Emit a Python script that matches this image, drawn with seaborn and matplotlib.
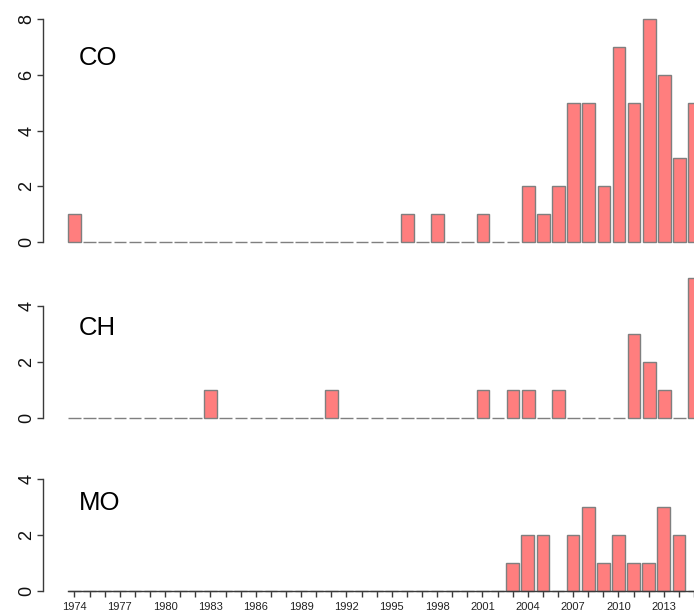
import numpy as np
import pandas as pd
import matplotlib
matplotlib.use("Agg")
import matplotlib.pyplot as plt
import seaborn as sns

years = list(range(1974, 2016))
co = [1, 0, 0, 0, 0, 0, 0, 0, 0, 0, 0, 0, 0, 0, 0, 0, 0, 0, 0, 0, 0, 0,
      1, 0, 1, 0, 0, 1, 0, 0, 2, 1, 2, 5, 5, 2, 7, 5, 8, 6, 3, 5]
ch = [0, 0, 0, 0, 0, 0, 0, 0, 0, 1, 0, 0, 0, 0, 0, 0, 0, 1, 0, 0, 0, 0,
      0, 0, 0, 0, 0, 1, 0, 1, 1, 0, 1, 0, 0, 0, 0, 3, 2, 1, 0, 5]
mo = [0, 0, 0, 0, 0, 0, 0, 0, 0, 0, 0, 0, 0, 0, 0, 0, 0, 0, 0, 0, 0, 0,
      0, 0, 0, 0, 0, 0, 0, 1, 2, 2, 0, 2, 3, 1, 2, 1, 1, 3, 2, 0]
panel_names = ["CO", "CH", "MO"]
panel_values = [co, ch, mo]
panel_ymax = [8, 4, 4]
label_years = list(range(1974, 2014, 3))

sns.set_style("white")
plt.rcParams["font.family"] = ["Liberation Sans", "DejaVu Sans"]

W, H = 694, 612
fig = plt.figure(figsize=(W / 100, H / 100), dpi=100)

fill = "#FF7E7E"
edge = "#7F7F7F"
axis_col = "#3a3a3a"

# pixel layout: (y of value 0, px per unit)
zero_px = [242.0, 417.7, 590.7]
unit_px = [27.84, 28.0, 27.9]
ylims = [(-0.3, 8.4), (-0.3, 5.2), (-0.3, 4.4)]
label_base = [65.0, 335.0, 510.0]

spacing = 15.125
x1974 = 74.5
left_px = 42.7
xl = 1974 - (x1974 - left_px) / spacing
xr = 1974 + (W - x1974) / spacing

for i, (name, vals) in enumerate(zip(panel_names, panel_values)):
    y0, y1 = ylims[i]
    bottom_px = zero_px[i] - y0 * unit_px[i]
    top_px = zero_px[i] - y1 * unit_px[i]
    ax = fig.add_axes([left_px / W, 1 - bottom_px / H,
                       (W - left_px) / W, (bottom_px - top_px) / H])
    df = pd.DataFrame({"year": years, "n": vals})
    sns.barplot(data=df, x="year", y="n", native_scale=True, width=0.84,
                color=fill, saturation=1, edgecolor=edge, linewidth=1.0,
                errorbar=None, ax=ax)
    ax.set_xlim(xl, xr)
    ax.set_ylim(y0, y1)
    ax.set_xlabel("")
    ax.set_ylabel("")
    for s in ["top", "right"]:
        ax.spines[s].set_visible(False)
    ax.spines["left"].set_bounds(0, panel_ymax[i])
    ax.spines["left"].set_color(axis_col)
    ax.spines["left"].set_linewidth(1.0)
    ax.set_yticks(list(range(0, panel_ymax[i] + 1, 2)))
    ax.tick_params(axis="y", which="major", left=True, length=4, width=1.0,
                   color=axis_col, labelsize=13, pad=1.2, labelrotation=90,
                   labelcolor="#111111")
    for lab in ax.get_yticklabels():
        lab.set_va("center")
    if i < 2:
        ax.spines["bottom"].set_visible(False)
        ax.set_xticks([])
    else:
        ax.spines["bottom"].set_position(("data", 0))
        ax.spines["bottom"].set_bounds(1973.58, 2016)
        ax.spines["bottom"].set_color(axis_col)
        ax.spines["bottom"].set_linewidth(1.0)
        ax.set_xticks(years)
        ax.set_xticklabels([str(y) if y in label_years else "" for y in years])
        ax.tick_params(axis="x", which="major", bottom=True, length=4.5,
                       width=1.0, color=axis_col, labelsize=8, pad=3.5,
                       labelcolor="#222222")
    ax.patch.set_visible(False)
    fig.text(79 / W, 1 - label_base[i] / H, name, fontsize=18.5,
             ha="left", va="baseline", color="black")

fig.savefig("out.png", dpi=100)
